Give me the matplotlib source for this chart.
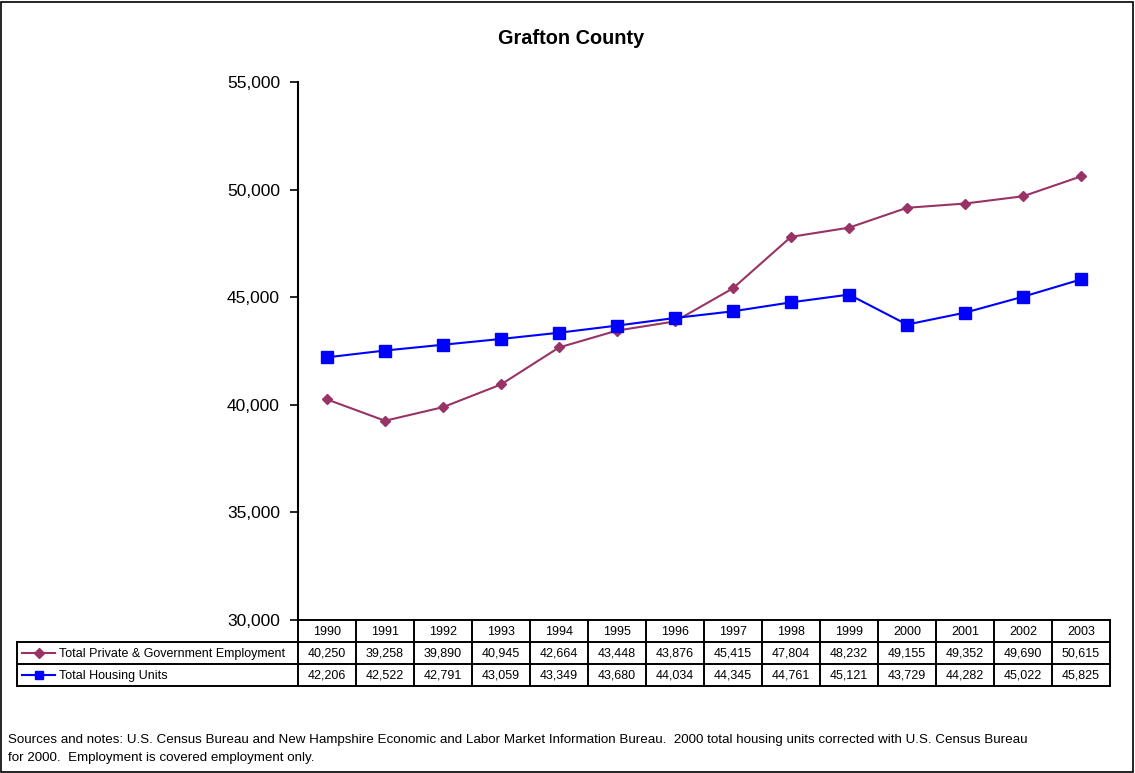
import matplotlib
matplotlib.use("Agg")
import matplotlib.pyplot as plt
from matplotlib.transforms import blended_transform_factory
from matplotlib.patches import Rectangle

plt.rcParams['font.family'] = ['Liberation Sans', 'DejaVu Sans']

years = ['1990', '1991', '1992', '1993', '1994', '1995', '1996',
         '1997', '1998', '1999', '2000', '2001', '2002', '2003']
employment = [40250, 39258, 39890, 40945, 42664, 43448, 43876,
              45415, 47804, 48232, 49155, 49352, 49690, 50615]
housing = [42206, 42522, 42791, 43059, 43349, 43680, 44034,
           44345, 44761, 45121, 43729, 44282, 45022, 45825]
series_names = ['Total Private & Government Employment', 'Total Housing Units']
y_ticks = [30000, 35000, 40000, 45000, 50000, 55000]

EMP_COLOR = '#993366'
HOUSE_COLOR = '#0000FF'

W, H = 1135, 773
fig = plt.figure(figsize=(W / 100, H / 100), dpi=100)

# plot area in pixel coordinates
px_left, px_right, px_top, px_bottom = 298, 1110, 82, 620
ax = fig.add_axes([px_left / W, 1 - px_bottom / H,
                   (px_right - px_left) / W, (px_bottom - px_top) / H])

x = list(range(len(years)))
ax.plot(x, employment, color=EMP_COLOR, lw=1.5, marker='D', ms=5,
        markerfacecolor=EMP_COLOR, markeredgecolor=EMP_COLOR, zorder=3)
ax.plot(x, housing, color=HOUSE_COLOR, lw=1.5, marker='s', ms=9,
        markerfacecolor=HOUSE_COLOR, markeredgecolor=HOUSE_COLOR, zorder=4)

ax.set_xlim(-0.5, len(years) - 0.5)
ax.set_ylim(y_ticks[0], y_ticks[-1])
ax.set_yticks(y_ticks)
ax.set_yticklabels([f'{v:,}' for v in y_ticks], fontsize=12.5)
ax.set_xticks([])
ax.tick_params(axis='y', direction='out', length=6, width=1.2, pad=7)
for s in ['top', 'right', 'bottom']:
    ax.spines[s].set_visible(False)
ax.spines['left'].set_linewidth(1.5)

fig.text(571 / W, 1 - 38 / H, 'Grafton County', fontsize=14.3,
         fontweight='bold', ha='center', va='center')

# data table beneath the plot
trans = blended_transform_factory(ax.transData, ax.transAxes)
ah = px_bottom - px_top


def ay(py):
    return (px_bottom - py) / ah


def dx(px):
    return -0.5 + (px - px_left) / ((px_right - px_left) / len(years))


row_edges = [620, 642, 664, 686]
lbl_left = dx(17)
n = len(years)
lw_tab = 1.4
kw = dict(transform=trans, clip_on=False, color='black', lw=lw_tab)

# header row (years)
ax.plot([-0.5, n - 0.5], [ay(row_edges[0])] * 2, **kw)
for i in range(n + 1):
    ax.plot([i - 0.5, i - 0.5], [ay(row_edges[0]), ay(row_edges[3])], **kw)
# data rows
for yy in row_edges[1:]:
    ax.plot([lbl_left, n - 0.5], [ay(yy)] * 2, **kw)
ax.plot([lbl_left, lbl_left], [ay(row_edges[1]), ay(row_edges[3])], **kw)

fs_tab = 9
for i, yr in enumerate(years):
    ax.text(i, ay((row_edges[0] + row_edges[1]) / 2 + 1), yr, transform=trans,
            ha='center', va='center', fontsize=fs_tab, clip_on=False)
    ax.text(i, ay((row_edges[1] + row_edges[2]) / 2 + 1), f'{employment[i]:,}',
            transform=trans, ha='center', va='center', fontsize=fs_tab, clip_on=False)
    ax.text(i, ay((row_edges[2] + row_edges[3]) / 2 + 1), f'{housing[i]:,}',
            transform=trans, ha='center', va='center', fontsize=fs_tab, clip_on=False)

# legend keys in the label column
keys = [(EMP_COLOR, 'D', 5), (HOUSE_COLOR, 's', 6)]
for r, (name, (c, m, ms)) in enumerate(zip(series_names, keys)):
    yc = ay((row_edges[r + 1] + row_edges[r + 2]) / 2)
    ax.plot([dx(22), dx(55)], [yc, yc], color=c, lw=1.5, transform=trans, clip_on=False)
    ax.plot([dx(38.5)], [yc], color=c, marker=m, ms=ms, transform=trans, clip_on=False)
    ax.text(dx(59), ay((row_edges[r + 1] + row_edges[r + 2]) / 2 + 1), name,
            transform=trans, ha='left', va='center', fontsize=fs_tab, clip_on=False)

# footnote
fig.text(8 / W, 1 - 740 / H,
         'Sources and notes: U.S. Census Bureau and New Hampshire Economic and Labor Market '
         'Information Bureau.  2000 total housing units corrected with U.S. Census Bureau',
         fontsize=9.6, ha='left', va='center')
fig.text(8 / W, 1 - 758 / H,
         'for 2000.  Employment is covered employment only.',
         fontsize=9.6, ha='left', va='center')

# outer frame
fig.patches.append(Rectangle((1 / W, 1 / H), (W - 3) / W, (H - 3) / H,
                             transform=fig.transFigure, fill=False,
                             edgecolor='black', lw=1.2))

fig.savefig('out.png', dpi=100)
